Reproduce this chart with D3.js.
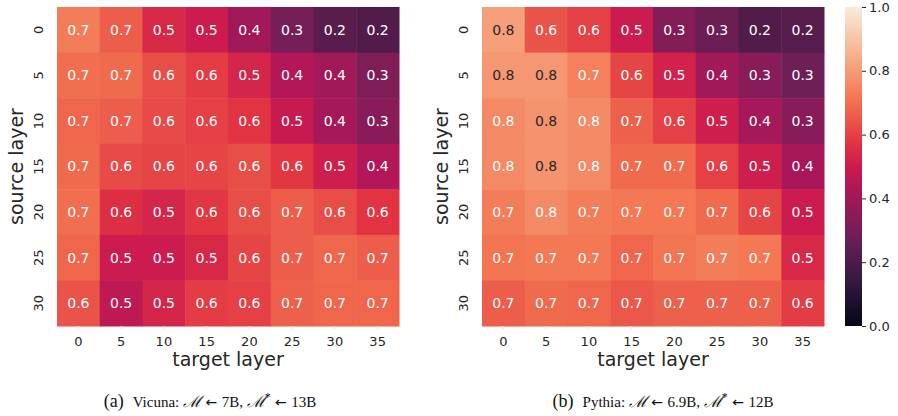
<!DOCTYPE html>
<html>
<head>
<meta charset="utf-8">
<script src="https://cdn.jsdelivr.net/npm/d3@7"></script>
<style>
  body { margin: 0; background: #fff; }
  svg { display: block; }
</style>
</head>
<body>
<script>
const W = 898, H = 416;

const sourceLayers = [0, 5, 10, 15, 20, 25, 30];
const targetLayers = [0, 5, 10, 15, 20, 25, 30, 35];
const colorbarTicks = [0, 0.2, 0.4, 0.6, 0.8, 1.0];

// Vicuna: M <- 7B, M* <- 13B  (rows = source layer, cols = target layer)
const vicunaValues = [
  [0.73, 0.66, 0.54, 0.50, 0.40, 0.30, 0.23, 0.21],
  [0.70, 0.69, 0.63, 0.59, 0.53, 0.44, 0.40, 0.32],
  [0.68, 0.66, 0.62, 0.60, 0.57, 0.49, 0.41, 0.34],
  [0.69, 0.62, 0.61, 0.61, 0.63, 0.58, 0.51, 0.44],
  [0.70, 0.56, 0.53, 0.58, 0.63, 0.66, 0.63, 0.57],
  [0.68, 0.50, 0.50, 0.54, 0.61, 0.66, 0.68, 0.66],
  [0.64, 0.47, 0.53, 0.59, 0.60, 0.67, 0.68, 0.68]
];

// Pythia: M <- 6.9B, M* <- 12B
const pythiaValues = [
  [0.81, 0.64, 0.60, 0.50, 0.33, 0.27, 0.21, 0.22],
  [0.79, 0.79, 0.74, 0.61, 0.52, 0.40, 0.34, 0.28],
  [0.76, 0.78, 0.76, 0.67, 0.60, 0.51, 0.41, 0.34],
  [0.76, 0.78, 0.76, 0.69, 0.69, 0.60, 0.51, 0.42],
  [0.73, 0.76, 0.73, 0.72, 0.72, 0.69, 0.61, 0.50],
  [0.71, 0.72, 0.72, 0.68, 0.71, 0.73, 0.72, 0.54],
  [0.66, 0.69, 0.68, 0.65, 0.67, 0.67, 0.67, 0.59]
];

const captions = [
  { tag: '(a)', model: 'Vicuna', small: '7B', large: '13B' },
  { tag: '(b)', model: 'Pythia', small: '6.9B', large: '12B' }
];

// rocket colormap (seaborn), piecewise
const rocketStops = [0, 1/7, 2/7, 3/7, 0.5, 4/7, 5/7, 6/7, 1];
const rocketColors = ['#03051a', '#35193e', '#701f57', '#ad1759', '#cb1b4f',
  '#e13342', '#f37651', '#f6b48f', '#faebdd'];
const color = d3.scaleLinear()
  .domain(rocketStops)
  .range(rocketColors)
  .interpolate(d3.interpolateRgb)
  .clamp(true);

function luminance(c) {
  const rgb = d3.rgb(c);
  const lin = v => {
    v = v / 255;
    return v <= 0.03928 ? v / 12.92 : Math.pow((v + 0.055) / 1.055, 2.4);
  };
  return 0.2126 * lin(rgb.r) + 0.7152 * lin(rgb.g) + 0.0722 * lin(rgb.b);
}

const textColor = '#262626';
const sans = 'DejaVu Sans, sans-serif';
const serif = 'Liberation Serif, Times New Roman, serif';

const svg = d3.select('body').append('svg')
  .attr('width', W)
  .attr('height', H);

const panels = [
  { values: vicunaValues, x0: 57, caption: captions[0], capX: 210 },
  { values: pythiaValues, x0: 482, caption: captions[1], capX: 663 }
];
const hmTop = 7, hmBottom = 326, hmW = 342;

panels.forEach(p => {
  const g = svg.append('g');

  const x = d3.scaleBand()
    .domain(targetLayers)
    .range([p.x0, p.x0 + hmW]);
  const y = d3.scaleBand()
    .domain(sourceLayers)
    .range([hmTop, hmBottom]);

  const cells = [];
  p.values.forEach((row, i) => row.forEach((v, j) => {
    cells.push({ s: sourceLayers[i], t: targetLayers[j], v: v });
  }));

  g.selectAll('rect.cell')
    .data(cells)
    .enter()
    .append('rect')
    .attr('class', 'cell')
    .attr('x', d => x(d.t))
    .attr('y', d => y(d.s))
    .attr('width', x.bandwidth() + 0.5)
    .attr('height', y.bandwidth() + 0.5)
    .attr('fill', d => color(d.v));

  g.selectAll('text.annot')
    .data(cells)
    .enter()
    .append('text')
    .attr('class', 'annot')
    .attr('x', d => x(d.t) + x.bandwidth() / 2)
    .attr('y', d => y(d.s) + y.bandwidth() / 2)
    .attr('dy', '0.35em')
    .attr('text-anchor', 'middle')
    .attr('font-family', sans)
    .attr('font-size', '14px')
    .attr('fill', d => luminance(color(d.v)) > 0.408 ? textColor : '#ffffff')
    .text(d => d3.format('.1f')(d.v));

  // x axis
  const xAxis = g.append('g')
    .attr('transform', `translate(0,${hmBottom})`)
    .call(d3.axisBottom(x).tickSize(3).tickPadding(8));
  xAxis.select('.domain').remove();
  xAxis.selectAll('line').attr('stroke', '#e4e4e4');
  xAxis.selectAll('text')
    .attr('font-family', sans)
    .attr('font-size', '13px')
    .attr('fill', textColor);

  // y axis, labels rotated
  const yAxis = g.append('g')
    .attr('transform', `translate(${p.x0},0)`)
    .call(d3.axisLeft(y).tickSize(0).tickPadding(0));
  yAxis.select('.domain').remove();
  yAxis.selectAll('text')
    .attr('font-family', sans)
    .attr('font-size', '13px')
    .attr('fill', textColor)
    .attr('text-anchor', 'middle')
    .attr('x', null)
    .attr('transform', 'translate(-19,0) rotate(-90)')
    .attr('y', 0)
    .attr('dy', '0.35em');

  g.append('text')
    .attr('x', p.x0 + hmW / 2)
    .attr('y', 366)
    .attr('text-anchor', 'middle')
    .attr('font-family', sans)
    .attr('font-size', '19px')
    .attr('fill', textColor)
    .text('target layer');

  g.append('text')
    .attr('transform', `translate(${p.x0 - 41},${(hmTop + hmBottom) / 2}) rotate(-90)`)
    .attr('text-anchor', 'middle')
    .attr('dy', '0.35em')
    .attr('font-family', sans)
    .attr('font-size', '19px')
    .attr('fill', textColor)
    .text('source layer');

  // caption: (x)  Model: M <- small, M* <- large
  const c = p.caption;
  const cap = g.append('text')
    .attr('x', p.capX)
    .attr('y', 407)
    .attr('text-anchor', 'middle')
    .attr('font-family', serif)
    .attr('font-size', '15px')
    .attr('fill', '#111');
  cap.append('tspan').attr('font-size', '18px').text(c.tag + '\u00a0\u00a0');
  cap.append('tspan').text(c.model + ':\u00a0');
  cap.append('tspan').attr('font-family', 'DejaVu Serif, serif').attr('font-style', 'italic').attr('font-size', '16px').text('ℳ');
  cap.append('tspan').attr('font-family', sans).attr('font-size', '14px').text('\u00a0←\u00a0');
  cap.append('tspan').text(c.small + ',\u00a0');
  cap.append('tspan').attr('font-family', 'DejaVu Serif, serif').attr('font-style', 'italic').attr('font-size', '16px').text('ℳ');
  cap.append('tspan').attr('font-size', '12px').attr('dy', -6).text('*');
  cap.append('tspan').attr('font-family', sans).attr('font-size', '14px').attr('dy', 6).text('\u00a0←\u00a0');
  cap.append('tspan').text(c.large);
});

// colorbar
const cbX = 845, cbW = 17;
const cbScale = d3.scaleLinear().domain([0, 1]).range([hmBottom, hmTop]);

const grad = svg.append('defs').append('linearGradient')
  .attr('id', 'rocket')
  .attr('x1', 0).attr('y1', 1).attr('x2', 0).attr('y2', 0);
grad.selectAll('stop')
  .data(d3.range(0, 1.0001, 0.02))
  .enter()
  .append('stop')
  .attr('offset', d => d)
  .attr('stop-color', d => color(d));

svg.append('rect')
  .attr('x', cbX)
  .attr('y', hmTop)
  .attr('width', cbW)
  .attr('height', hmBottom - hmTop)
  .attr('fill', 'url(#rocket)');

const cbAxis = svg.append('g')
  .attr('transform', `translate(${cbX + cbW},0)`)
  .call(d3.axisRight(cbScale).tickValues(colorbarTicks).tickFormat(d3.format('.1f')).tickSize(4).tickPadding(3));
cbAxis.select('.domain').remove();
cbAxis.selectAll('line').attr('stroke', textColor);
cbAxis.selectAll('text')
  .attr('font-family', sans)
  .attr('font-size', '13px')
  .attr('fill', textColor);
</script>
</body>
</html>
